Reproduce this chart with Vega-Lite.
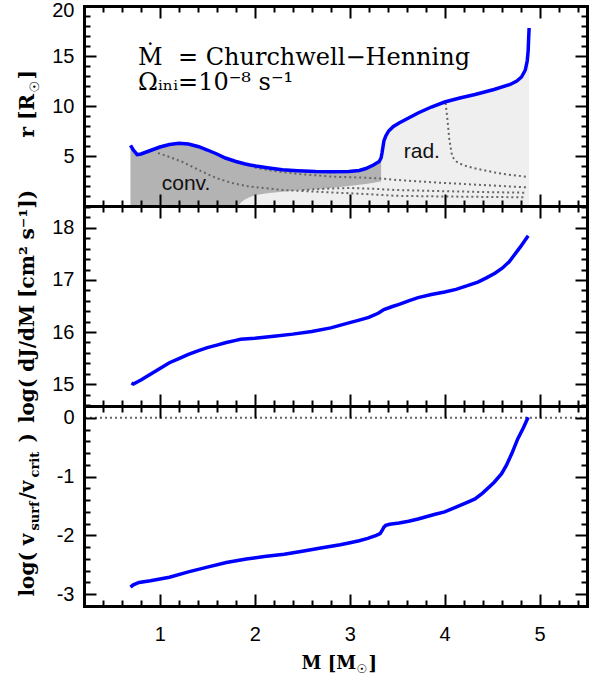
{
  "$schema": "https://vega.github.io/schema/vega-lite/v6.json",
  "padding": {"left": 16, "top": 0, "right": 5, "bottom": 0},
  "bounds": "flush",
  "spacing": 0,
  "config": {"view": {"stroke": null}, "axis": {"grid": false}},
  "datasets": {
    "surface": [
      {"M": 0.69, "r": 6.07, "cb": 0}, {"M": 0.72, "r": 5.6, "cb": 0}, {"M": 0.76, "r": 5.13, "cb": 0},
      {"M": 0.8, "r": 5.2, "cb": 0}, {"M": 0.9, "r": 5.55, "cb": 0}, {"M": 1.0, "r": 5.9, "cb": 0},
      {"M": 1.1, "r": 6.15, "cb": 0}, {"M": 1.2, "r": 6.27, "cb": 0}, {"M": 1.3, "r": 6.2, "cb": 0},
      {"M": 1.41, "r": 5.93, "cb": 0}, {"M": 1.5, "r": 5.6, "cb": 0}, {"M": 1.6, "r": 5.2, "cb": 0},
      {"M": 1.69, "r": 4.8, "cb": 0}, {"M": 1.8, "r": 4.45, "cb": 0}, {"M": 1.82, "r": 4.4, "cb": 0},
      {"M": 1.86, "r": 4.3, "cb": 0.4}, {"M": 1.9, "r": 4.2, "cb": 0.67}, {"M": 1.95, "r": 4.1, "cb": 0.9},
      {"M": 2.01, "r": 4.0, "cb": 1.1}, {"M": 2.15, "r": 3.8, "cb": 1.3}, {"M": 2.29, "r": 3.62, "cb": 1.43},
      {"M": 2.45, "r": 3.52, "cb": 1.55}, {"M": 2.64, "r": 3.44, "cb": 1.67}, {"M": 2.8, "r": 3.42, "cb": 1.8},
      {"M": 2.99, "r": 3.45, "cb": 2.0}, {"M": 3.1, "r": 3.55, "cb": 2.12}, {"M": 3.17, "r": 3.75, "cb": 2.2},
      {"M": 3.25, "r": 4.1, "cb": 2.33}, {"M": 3.31, "r": 4.45, "cb": 2.43}, {"M": 3.33, "r": 4.8, "cb": 2.45},
      {"M": 3.34, "r": 5.3}, {"M": 3.35, "r": 5.9}, {"M": 3.36, "r": 6.5}, {"M": 3.38, "r": 7.0},
      {"M": 3.41, "r": 7.5}, {"M": 3.46, "r": 7.95}, {"M": 3.52, "r": 8.3}, {"M": 3.62, "r": 8.8},
      {"M": 3.72, "r": 9.3}, {"M": 3.86, "r": 9.9}, {"M": 4.0, "r": 10.4}, {"M": 4.16, "r": 10.8},
      {"M": 4.32, "r": 11.15}, {"M": 4.52, "r": 11.65}, {"M": 4.69, "r": 12.15}, {"M": 4.76, "r": 12.5},
      {"M": 4.81, "r": 12.9}, {"M": 4.85, "r": 13.6}, {"M": 4.87, "r": 14.5}, {"M": 4.88, "r": 15.5},
      {"M": 4.885, "r": 16.7}, {"M": 4.89, "r": 17.8}
    ],
    "shells": [
      {"m": 1, "M": 0.98, "r": 5.3}, {"m": 1, "M": 1.1, "r": 4.9}, {"m": 1, "M": 1.24, "r": 4.4},
      {"m": 1, "M": 1.41, "r": 3.6}, {"m": 1, "M": 1.59, "r": 2.8}, {"m": 1, "M": 1.76, "r": 2.3},
      {"m": 1, "M": 1.94, "r": 1.95}, {"m": 1, "M": 2.29, "r": 1.6}, {"m": 1, "M": 2.64, "r": 1.43},
      {"m": 1, "M": 3.17, "r": 1.2}, {"m": 1, "M": 3.48, "r": 1.02}, {"m": 1, "M": 4.0, "r": 0.95},
      {"m": 1, "M": 4.5, "r": 0.9}, {"m": 1, "M": 4.86, "r": 0.87},
      {"m": 2, "M": 2.0, "r": 3.85}, {"m": 2, "M": 2.2, "r": 3.5}, {"m": 2, "M": 2.47, "r": 3.2},
      {"m": 2, "M": 2.82, "r": 2.93}, {"m": 2, "M": 3.1, "r": 2.85}, {"m": 2, "M": 3.34, "r": 2.75},
      {"m": 2, "M": 3.5, "r": 2.6}, {"m": 2, "M": 4.0, "r": 2.3}, {"m": 2, "M": 4.5, "r": 2.05},
      {"m": 2, "M": 4.86, "r": 1.87},
      {"m": 3, "M": 2.5, "r": 1.6}, {"m": 3, "M": 2.8, "r": 1.75}, {"m": 3, "M": 3.0, "r": 1.8},
      {"m": 3, "M": 3.25, "r": 1.72}, {"m": 3, "M": 3.48, "r": 1.6}, {"m": 3, "M": 4.0, "r": 1.48},
      {"m": 3, "M": 4.5, "r": 1.38}, {"m": 3, "M": 4.86, "r": 1.33},
      {"m": 4, "M": 4.01, "r": 10.3}, {"m": 4, "M": 4.03, "r": 8.6}, {"m": 4, "M": 4.05, "r": 6.6},
      {"m": 4, "M": 4.08, "r": 4.93}, {"m": 4, "M": 4.13, "r": 4.4}, {"m": 4, "M": 4.19, "r": 4.1},
      {"m": 4, "M": 4.3, "r": 3.8}, {"m": 4, "M": 4.4, "r": 3.6}, {"m": 4, "M": 4.57, "r": 3.27},
      {"m": 4, "M": 4.7, "r": 3.1}, {"m": 4, "M": 4.86, "r": 2.93}
    ],
    "djdm": [
      {"M": 0.7, "v": 15.02}, {"M": 0.72, "v": 15.0}, {"M": 0.75, "v": 15.03}, {"M": 0.8, "v": 15.08},
      {"M": 0.9, "v": 15.19}, {"M": 1.0, "v": 15.3}, {"M": 1.1, "v": 15.41}, {"M": 1.2, "v": 15.49},
      {"M": 1.3, "v": 15.57}, {"M": 1.4, "v": 15.64}, {"M": 1.5, "v": 15.7}, {"M": 1.6, "v": 15.75},
      {"M": 1.7, "v": 15.8}, {"M": 1.8, "v": 15.84}, {"M": 1.85, "v": 15.86}, {"M": 2.0, "v": 15.88},
      {"M": 2.2, "v": 15.92}, {"M": 2.4, "v": 15.96}, {"M": 2.6, "v": 16.01}, {"M": 2.8, "v": 16.08},
      {"M": 3.0, "v": 16.18}, {"M": 3.1, "v": 16.23}, {"M": 3.2, "v": 16.28}, {"M": 3.3, "v": 16.36},
      {"M": 3.36, "v": 16.43}, {"M": 3.45, "v": 16.49}, {"M": 3.52, "v": 16.53}, {"M": 3.62, "v": 16.6},
      {"M": 3.72, "v": 16.66}, {"M": 3.86, "v": 16.72}, {"M": 4.0, "v": 16.77}, {"M": 4.12, "v": 16.82},
      {"M": 4.24, "v": 16.89}, {"M": 4.35, "v": 16.96}, {"M": 4.44, "v": 17.04}, {"M": 4.53, "v": 17.13},
      {"M": 4.61, "v": 17.23}, {"M": 4.68, "v": 17.35}, {"M": 4.73, "v": 17.47}, {"M": 4.8, "v": 17.64},
      {"M": 4.88, "v": 17.85}
    ],
    "vsurf": [
      {"M": 0.69, "v": -2.88}, {"M": 0.72, "v": -2.84}, {"M": 0.78, "v": -2.8}, {"M": 0.9, "v": -2.77},
      {"M": 1.1, "v": -2.71}, {"M": 1.3, "v": -2.62}, {"M": 1.5, "v": -2.54}, {"M": 1.7, "v": -2.46},
      {"M": 1.91, "v": -2.4}, {"M": 2.1, "v": -2.36}, {"M": 2.31, "v": -2.32}, {"M": 2.5, "v": -2.27},
      {"M": 2.71, "v": -2.21}, {"M": 2.9, "v": -2.16}, {"M": 2.99, "v": -2.13}, {"M": 3.1, "v": -2.09},
      {"M": 3.19, "v": -2.05}, {"M": 3.28, "v": -2.0}, {"M": 3.32, "v": -1.97}, {"M": 3.34, "v": -1.92},
      {"M": 3.36, "v": -1.86}, {"M": 3.38, "v": -1.83}, {"M": 3.42, "v": -1.81}, {"M": 3.52, "v": -1.79},
      {"M": 3.62, "v": -1.76}, {"M": 3.72, "v": -1.72}, {"M": 3.9, "v": -1.64}, {"M": 4.0, "v": -1.6},
      {"M": 4.12, "v": -1.52}, {"M": 4.25, "v": -1.43}, {"M": 4.32, "v": -1.38}, {"M": 4.4, "v": -1.28},
      {"M": 4.52, "v": -1.1}, {"M": 4.6, "v": -0.95}, {"M": 4.65, "v": -0.81}, {"M": 4.71, "v": -0.6},
      {"M": 4.77, "v": -0.36}, {"M": 4.83, "v": -0.17}, {"M": 4.88, "v": 0.01}
    ]
  },
  "vconcat": [
    {
      "width": 503,
      "height": 200,
      "resolve": {"axis": {"x": "independent", "y": "independent"}},
      "layer": [
        {
          "data": {"name": "surface"},
          "mark": {"type": "area", "color": "#efefef"},
          "encoding": {
            "x": {"field": "M", "type": "quantitative", "scale": {"domain": [0.2, 5.5], "nice": false, "zero": false},
              "axis": {"orient": "bottom", "values": [0.4,0.6,0.8,1,1.2,1.4,1.6,1.8,2,2.2,2.4,2.6,2.8,3,3.2,3.4,3.6,3.8,4,4.2,4.4,4.6,4.8,5,5.2,5.4], "labels": false, "ticks": true,
                "tickSize": {"condition": {"test": "abs(datum.value - round(datum.value)) < 0.001", "value": -12}, "value": -6},
                "tickWidth": 2, "tickColor": "black", "domain": true, "domainColor": "black", "domainWidth": 3, "domainCap": "square", "grid": false, "title": null, "zindex": 1}},
            "y": {"field": "r", "type": "quantitative", "scale": {"domain": [0, 20], "nice": false, "zero": false},
              "axis": {"orient": "left", "values": [5, 10, 15, 20], "ticks": false, "domain": false, "grid": false,
                "labelFont": "Liberation Sans", "labelFontSize": 20, "labelColor": "black", "labelPadding": 10,
                "labelOffset": {"condition": {"test": "datum.value === 20", "value": 4}, "value": 0},
                "title": "r [R", "titleFont": "DejaVu Serif", "titleFontWeight": "bold", "titleFontSize": 20, "titleColor": "black",
                "titleAngle": 270, "titleAlign": "left", "titleBaseline": "alphabetic", "titleX": -51, "titleY": 131}},
            "y2": {"datum": 0}
          }
        },
        {
          "data": {"name": "surface"},
          "transform": [{"filter": "isValid(datum.cb)"}],
          "mark": {"type": "area", "color": "#b3b3b3"},
          "encoding": {
            "x": {"field": "M", "type": "quantitative", "scale": {"domain": [0.2, 5.5], "nice": false, "zero": false},
              "axis": {"orient": "top", "values": [0.4,0.6,0.8,1,1.2,1.4,1.6,1.8,2,2.2,2.4,2.6,2.8,3,3.2,3.4,3.6,3.8,4,4.2,4.4,4.6,4.8,5,5.2,5.4], "labels": false, "ticks": true,
                "tickSize": {"condition": {"test": "abs(datum.value - round(datum.value)) < 0.001", "value": -12}, "value": -6},
                "tickWidth": 2, "tickColor": "black", "domain": true, "domainColor": "black", "domainWidth": 3, "domainCap": "square", "grid": false, "title": null, "zindex": 1}},
            "y": {"field": "r", "type": "quantitative", "scale": {"domain": [0, 20], "nice": false, "zero": false},
              "axis": {"orient": "left", "values": [1,2,3,4,5,6,7,8,9,10,11,12,13,14,15,16,17,18,19], "labels": false, "ticks": true,
                "tickSize": {"condition": {"test": "datum.value % 5 === 0", "value": -12}, "value": -6},
                "tickWidth": 2, "tickColor": "black", "domain": true, "domainColor": "black", "domainWidth": 3, "domainCap": "square", "grid": false, "zindex": 1,
                "title": "☉", "titleFont": "DejaVu Sans", "titleFontWeight": "bold", "titleFontSize": 13, "titleColor": "black",
                "titleAngle": 270, "titleAlign": "left", "titleBaseline": "alphabetic", "titleX": -46, "titleY": 86}},
            "y2": {"field": "cb"}
          }
        },
        {
          "data": {"name": "shells"},
          "mark": {"type": "line", "color": "#666666", "strokeDash": [2, 3], "strokeWidth": 2},
          "encoding": {
            "x": {"field": "M", "type": "quantitative", "scale": {"domain": [0.2, 5.5], "nice": false, "zero": false}, "axis": null},
            "y": {"field": "r", "type": "quantitative", "scale": {"domain": [0, 20], "nice": false, "zero": false},
              "axis": {"orient": "right", "values": [1,2,3,4,5,6,7,8,9,10,11,12,13,14,15,16,17,18,19], "labels": false, "ticks": true,
                "tickSize": {"condition": {"test": "datum.value % 5 === 0", "value": -12}, "value": -6},
                "tickWidth": 2, "tickColor": "black", "domain": true, "domainColor": "black", "domainWidth": 3, "domainCap": "square", "grid": false, "zindex": 1,
                "title": "]", "titleFont": "DejaVu Serif", "titleFontWeight": "bold", "titleFontSize": 20, "titleColor": "black",
                "titleAngle": 270, "titleAlign": "left", "titleBaseline": "alphabetic", "titleX": -554, "titleY": 73}},
            "detail": {"field": "m", "type": "nominal"}
          }
        },
        {
          "data": {"name": "surface"},
          "mark": {"type": "line", "color": "#0000ff", "strokeWidth": 3.5},
          "encoding": {
            "x": {"field": "M", "type": "quantitative", "scale": {"domain": [0.2, 5.5], "nice": false, "zero": false}, "axis": null},
            "y": {"field": "r", "type": "quantitative", "scale": {"domain": [0, 20], "nice": false, "zero": false}, "axis": null}
          }
        },
        {
          "data": {"values": [
            {"M": 0.77, "r": 14.15, "label": "Ṁ\u00a0 = Churchwell−Henning"},
            {"M": 0.77, "r": 11.6, "label": "Ωᵢₙᵢ=10⁻⁸ s⁻¹"}
          ]},
          "mark": {"type": "text", "align": "left", "baseline": "alphabetic", "font": "DejaVu Serif", "fontSize": 24, "color": "black"},
          "encoding": {
            "x": {"field": "M", "type": "quantitative", "scale": {"domain": [0.2, 5.5], "nice": false, "zero": false}, "axis": null},
            "y": {"field": "r", "type": "quantitative", "scale": {"domain": [0, 20], "nice": false, "zero": false}, "axis": null},
            "text": {"field": "label"}
          }
        },
        {
          "data": {"values": [
            {"M": 1.275, "r": 1.6, "label": "conv."},
            {"M": 3.76, "r": 4.77, "label": "rad."}
          ]},
          "mark": {"type": "text", "align": "center", "baseline": "alphabetic", "font": "Liberation Sans", "fontSize": 21, "color": "#111111"},
          "encoding": {
            "x": {"field": "M", "type": "quantitative", "scale": {"domain": [0.2, 5.5], "nice": false, "zero": false}, "axis": null},
            "y": {"field": "r", "type": "quantitative", "scale": {"domain": [0, 20], "nice": false, "zero": false}, "axis": null},
            "text": {"field": "label"}
          }
        }
      ]
    },
    {
      "width": 503,
      "height": 200,
      "resolve": {"axis": {"x": "independent", "y": "independent"}},
      "layer": [
        {
          "data": {"name": "djdm"},
          "mark": {"type": "line", "color": "#0000ff", "strokeWidth": 3.5},
          "encoding": {
            "x": {"field": "M", "type": "quantitative", "scale": {"domain": [0.2, 5.5], "nice": false, "zero": false},
              "axis": {"orient": "bottom", "values": [0.4,0.6,0.8,1,1.2,1.4,1.6,1.8,2,2.2,2.4,2.6,2.8,3,3.2,3.4,3.6,3.8,4,4.2,4.4,4.6,4.8,5,5.2,5.4], "labels": false, "ticks": true,
                "tickSize": {"condition": {"test": "abs(datum.value - round(datum.value)) < 0.001", "value": -12}, "value": -6},
                "tickWidth": 2, "tickColor": "black", "domain": true, "domainColor": "black", "domainWidth": 3, "domainCap": "square", "grid": false, "title": null, "zindex": 1}},
            "y": {"field": "v", "type": "quantitative", "scale": {"domain": [14.58, 18.42], "nice": false, "zero": false},
              "axis": {"orient": "left", "values": [15, 16, 17, 18], "ticks": false, "domain": false, "grid": false,
                "labelFont": "Liberation Sans", "labelFontSize": 20, "labelColor": "black", "labelPadding": 10,
                "title": "log( dJ/dM [cm² s⁻¹])", "titleFont": "DejaVu Serif", "titleFontWeight": "bold", "titleFontSize": 20, "titleColor": "black",
                "titleAngle": 270, "titleAlign": "center", "titleBaseline": "alphabetic", "titleX": -51, "titleY": 100}}
          }
        },
        {
          "data": {"values": []},
          "mark": {"type": "point"},
          "encoding": {
            "x": {"field": "M", "type": "quantitative", "scale": {"domain": [0.2, 5.5], "nice": false, "zero": false},
              "axis": {"orient": "top", "values": [0.4,0.6,0.8,1,1.2,1.4,1.6,1.8,2,2.2,2.4,2.6,2.8,3,3.2,3.4,3.6,3.8,4,4.2,4.4,4.6,4.8,5,5.2,5.4], "labels": false, "ticks": true,
                "tickSize": {"condition": {"test": "abs(datum.value - round(datum.value)) < 0.001", "value": -12}, "value": -6},
                "tickWidth": 2, "tickColor": "black", "domain": true, "domainColor": "black", "domainWidth": 3, "domainCap": "square", "grid": false, "title": null, "zindex": 1}},
            "y": {"field": "v", "type": "quantitative", "scale": {"domain": [14.58, 18.42], "nice": false, "zero": false},
              "axis": {"orient": "left", "values": [14.6,14.8,15,15.2,15.4,15.6,15.8,16,16.2,16.4,16.6,16.8,17,17.2,17.4,17.6,17.8,18,18.2,18.4], "labels": false, "ticks": true,
                "tickSize": {"condition": {"test": "abs(datum.value - round(datum.value)) < 0.001", "value": -12}, "value": -6},
                "tickWidth": 2, "tickColor": "black", "domain": true, "domainColor": "black", "domainWidth": 3, "domainCap": "square", "grid": false, "title": null, "zindex": 1}}
          }
        },
        {
          "data": {"values": []},
          "mark": {"type": "point"},
          "encoding": {
            "y": {"field": "v", "type": "quantitative", "scale": {"domain": [14.58, 18.42], "nice": false, "zero": false},
              "axis": {"orient": "right", "values": [14.6,14.8,15,15.2,15.4,15.6,15.8,16,16.2,16.4,16.6,16.8,17,17.2,17.4,17.6,17.8,18,18.2,18.4], "labels": false, "ticks": true,
                "tickSize": {"condition": {"test": "abs(datum.value - round(datum.value)) < 0.001", "value": -12}, "value": -6},
                "tickWidth": 2, "tickColor": "black", "domain": true, "domainColor": "black", "domainWidth": 3, "domainCap": "square", "grid": false, "title": null, "zindex": 1}}
          }
        }
      ]
    },
    {
      "width": 503,
      "height": 200,
      "resolve": {"axis": {"x": "independent", "y": "independent"}},
      "layer": [
        {
          "data": {"values": [{"v": 0}]},
          "mark": {"type": "rule", "color": "#666666", "strokeDash": [2, 3], "strokeWidth": 2},
          "encoding": {
            "y": {"field": "v", "type": "quantitative", "scale": {"domain": [-3.2, 0.2], "nice": false, "zero": false}, "axis": null}
          }
        },
        {
          "data": {"name": "vsurf"},
          "mark": {"type": "line", "color": "#0000ff", "strokeWidth": 3.5},
          "encoding": {
            "x": {"field": "M", "type": "quantitative", "scale": {"domain": [0.2, 5.5], "nice": false, "zero": false},
              "axis": {"orient": "bottom", "values": [1, 2, 3, 4, 5], "ticks": false, "domain": false, "grid": false,
                "labelFont": "Liberation Sans", "labelFontSize": 20, "labelColor": "black", "labelPadding": 18, "labelFlush": false,
                "title": "☉", "titleFont": "DejaVu Sans", "titleFontWeight": "bold", "titleFontSize": 12, "titleColor": "black",
                "titleAngle": 0, "titleAlign": "left", "titleBaseline": "alphabetic", "titleX": 272, "titleY": 66}},
            "y": {"field": "v", "type": "quantitative", "scale": {"domain": [-3.2, 0.2], "nice": false, "zero": false},
              "axis": {"orient": "left", "values": [-3, -2, -1, 0], "ticks": false, "domain": false, "grid": false,
                "labelFont": "Liberation Sans", "labelFontSize": 20, "labelColor": "black", "labelPadding": 10,
                "labelExpr": "datum.value < 0 ? '-' + abs(datum.value) : '0'",
                "title": "log( v", "titleFont": "DejaVu Serif", "titleFontWeight": "bold", "titleFontSize": 20, "titleColor": "black",
                "titleAngle": 270, "titleAlign": "left", "titleBaseline": "alphabetic", "titleX": -51, "titleY": 190}}
          }
        },
        {
          "data": {"values": []},
          "mark": {"type": "point"},
          "encoding": {
            "x": {"field": "M", "type": "quantitative", "scale": {"domain": [0.2, 5.5], "nice": false, "zero": false},
              "axis": {"orient": "bottom", "values": [0.4,0.6,0.8,1,1.2,1.4,1.6,1.8,2,2.2,2.4,2.6,2.8,3,3.2,3.4,3.6,3.8,4,4.2,4.4,4.6,4.8,5,5.2,5.4], "labels": false, "ticks": true,
                "tickSize": {"condition": {"test": "abs(datum.value - round(datum.value)) < 0.001", "value": -12}, "value": -6},
                "tickWidth": 2, "tickColor": "black", "domain": true, "domainColor": "black", "domainWidth": 3, "domainCap": "square", "grid": false, "zindex": 1,
                "title": "M [M", "titleFont": "DejaVu Serif", "titleFontWeight": "bold", "titleFontSize": 18, "titleColor": "black",
                "titleAngle": 0, "titleAlign": "left", "titleBaseline": "alphabetic", "titleX": 217, "titleY": 62}},
            "y": {"field": "v", "type": "quantitative", "scale": {"domain": [-3.2, 0.2], "nice": false, "zero": false},
              "axis": {"orient": "left", "values": [-3,-2.8,-2.6,-2.4,-2.2,-2,-1.8,-1.6,-1.4,-1.2,-1,-0.8,-0.6,-0.4,-0.2,0], "labels": false, "ticks": true,
                "tickSize": {"condition": {"test": "abs(datum.value - round(datum.value)) < 0.001", "value": -12}, "value": -6},
                "tickWidth": 2, "tickColor": "black", "domain": true, "domainColor": "black", "domainWidth": 3, "domainCap": "square", "grid": false, "zindex": 1,
                "title": "surf", "titleFont": "DejaVu Serif", "titleFontWeight": "bold", "titleFontSize": 13, "titleColor": "black",
                "titleAngle": 270, "titleAlign": "left", "titleBaseline": "alphabetic", "titleX": -46, "titleY": 124}}
          }
        },
        {
          "data": {"values": []},
          "mark": {"type": "point"},
          "encoding": {
            "x": {"field": "M", "type": "quantitative", "scale": {"domain": [0.2, 5.5], "nice": false, "zero": false},
              "axis": {"orient": "top", "values": [0.4,0.6,0.8,1,1.2,1.4,1.6,1.8,2,2.2,2.4,2.6,2.8,3,3.2,3.4,3.6,3.8,4,4.2,4.4,4.6,4.8,5,5.2,5.4], "labels": false, "ticks": true,
                "tickSize": {"condition": {"test": "abs(datum.value - round(datum.value)) < 0.001", "value": -12}, "value": -6},
                "tickWidth": 2, "tickColor": "black", "domain": true, "domainColor": "black", "domainWidth": 3, "domainCap": "square", "grid": false, "zindex": 1,
                "title": "]", "titleFont": "DejaVu Serif", "titleFontWeight": "bold", "titleFontSize": 18, "titleColor": "black",
                "titleAngle": 0, "titleAlign": "left", "titleBaseline": "alphabetic", "titleX": 284, "titleY": 262}},
            "y": {"field": "v", "type": "quantitative", "scale": {"domain": [-3.2, 0.2], "nice": false, "zero": false},
              "axis": {"orient": "right", "values": [-3,-2.8,-2.6,-2.4,-2.2,-2,-1.8,-1.6,-1.4,-1.2,-1,-0.8,-0.6,-0.4,-0.2,0], "labels": false, "ticks": true,
                "tickSize": {"condition": {"test": "abs(datum.value - round(datum.value)) < 0.001", "value": -12}, "value": -6},
                "tickWidth": 2, "tickColor": "black", "domain": true, "domainColor": "black", "domainWidth": 3, "domainCap": "square", "grid": false, "zindex": 1,
                "title": "/v", "titleFont": "DejaVu Serif", "titleFontWeight": "bold", "titleFontSize": 20, "titleColor": "black",
                "titleAngle": 270, "titleAlign": "left", "titleBaseline": "alphabetic", "titleX": -554, "titleY": 93}}
          }
        },
        {
          "data": {"values": []},
          "mark": {"type": "point"},
          "encoding": {
            "y": {"field": "v", "type": "quantitative", "scale": {"domain": [-3.2, 0.2], "nice": false, "zero": false},
              "axis": {"orient": "left", "ticks": false, "labels": false, "domain": false, "grid": false,
                "title": "crit", "titleFont": "DejaVu Serif", "titleFontWeight": "bold", "titleFontSize": 13, "titleColor": "black",
                "titleAngle": 270, "titleAlign": "left", "titleBaseline": "alphabetic", "titleX": -46, "titleY": 71}}
          }
        },
        {
          "data": {"values": []},
          "mark": {"type": "point"},
          "encoding": {
            "y": {"field": "v", "type": "quantitative", "scale": {"domain": [-3.2, 0.2], "nice": false, "zero": false},
              "axis": {"orient": "left", "ticks": false, "labels": false, "domain": false, "grid": false,
                "title": ")", "titleFont": "DejaVu Serif", "titleFontWeight": "bold", "titleFontSize": 20, "titleColor": "black",
                "titleAngle": 270, "titleAlign": "left", "titleBaseline": "alphabetic", "titleX": -51, "titleY": 36}}
          }
        }
      ]
    }
  ]
}
